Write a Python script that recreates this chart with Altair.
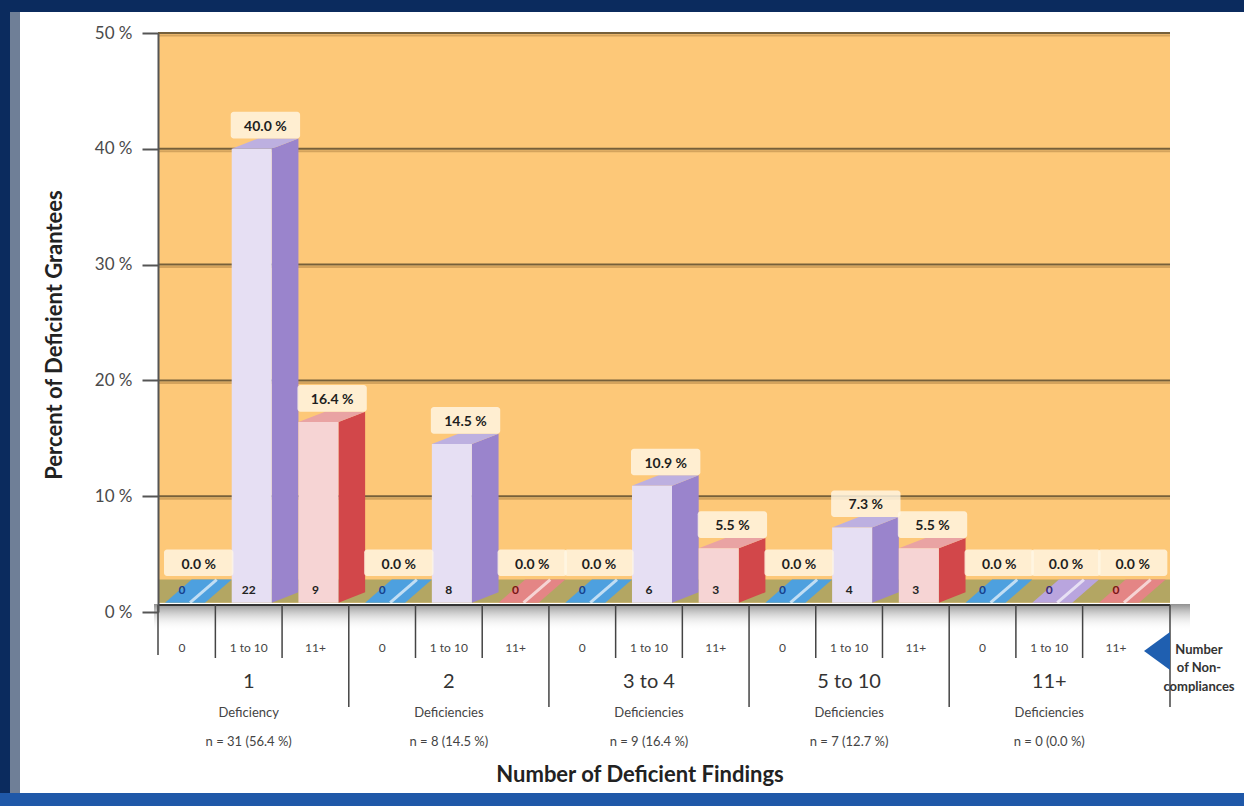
import altair as alt
import pandas as pd

# ---- data -------------------------------------------------------------
GROUPS = ["1", "2", "3 to 4", "5 to 10", "11+"]
GROUP_WORDS = ["Deficiency", "Deficiencies", "Deficiencies", "Deficiencies", "Deficiencies"]
GROUP_N = ["n = 31 (56.4 %)", "n = 8 (14.5 %)", "n = 9 (16.4 %)", "n = 7 (12.7 %)", "n = 0 (0.0 %)"]
SERIES = ["0", "1 to 10", "11+"]
PCT_NONE = [0.0, 0.0, 0.0, 0.0, 0.0]
PCT_1_10 = [40.0, 14.5, 10.9, 7.3, 0.0]
PCT_11P = [16.4, 0.0, 5.5, 5.5, 0.0]
CNT_NONE = [0, 0, 0, 0, 0]
CNT_1_10 = [22, 8, 6, 4, 0]
CNT_11P = [9, 0, 3, 3, 0]
Y_TICKS = [0, 10, 20, 30, 40, 50]

# ---- styling ----------------------------------------------------------
FONT = "Lato"
W, H = 1012, 579
FRONT = {"0": "#8fc6ee", "1 to 10": "#e6dff3", "11+": "#f6d4d4"}
SIDE = {"0": "#3f8fd0", "1 to 10": "#9a84cc", "11+": "#d2474a"}
TOP = {"0": "#6fb2e6", "1 to 10": "#bdb0e0", "11+": "#e9a3a3"}
FLAT = {"0": "#4da0df", "1 to 10": "#b9a5de", "11+": "#e48585"}
COUNT_INK = {"0": "#17408c", "1 to 10": "#3a2a7a", "11+": "#7a1515"}
BG = "#fdc878"
FLOOR = "#b3a663"
GRID = "#76603a"

# 3-D geometry (slot units along x, percent units along y)
FX0, FX1, DX = -0.255, 0.345, 0.40
BASE, DY, FLAT_DY = 0.8, 0.9, 2.0

XS = alt.Scale(domain=[-0.36, 14.81], nice=False, zero=False)
YS = alt.Scale(domain=[0, 50], nice=False, zero=False)
Y_AXIS = alt.Axis(values=Y_TICKS, labelExpr="datum.value + ' %'", grid=False, title=None,
                  domainColor="#555555", domainWidth=2, tickColor="#555555", tickWidth=2,
                  tickSize=16, labelFontSize=17, labelColor="#4a4a4a", labelPadding=10,
                  labelFont=FONT, zindex=1)


def X(f):
    return alt.X(f"{f}:Q", scale=XS, axis=None)


def Y(f):
    return alt.Y(f"{f}:Q", scale=YS, axis=Y_AXIS, stack=False)


pct = [PCT_NONE, PCT_1_10, PCT_11P]
cnt = [CNT_NONE, CNT_1_10, CNT_11P]

bars, polys, labels, counts, slots, stripes = [], [], [], [], [], []
for g in range(len(GROUPS)):
    for s, name in enumerate(SERIES):
        k = 3 * g + s
        v = pct[s][g]
        n = cnt[s][g]
        slots.append({"slot": k, "sub": name})
        ly = max(v, 2.2) + 1.9
        labels.append({"lx": k + 0.25, "bx": k - 0.27, "bx2": k + 0.77, "ly": ly,
                       "by": ly - 1.0, "by2": ly + 1.3, "txt": f"{v:.1f} %"})
        counts.append({"cx": k, "cy": 1.9, "txt": str(n),
                       "ink": COUNT_INK[name] if v == 0 else "#222222"})
        if v > 0:
            bars.append({"x": k + FX0, "x2": k + FX1, "y": BASE, "y2": v, "fill": FRONT[name]})
            fid = f"side{k}"
            polys += [
                {"id": fid, "x": k + FX1, "top": v, "bot": BASE, "fill": SIDE[name], "z": 1},
                {"id": fid, "x": k + FX1 + DX, "top": v + DY, "bot": BASE + DY, "fill": SIDE[name], "z": 1},
            ]
            tid = f"top{k}"
            polys += [
                {"id": tid, "x": k + FX0, "top": v, "bot": v, "fill": TOP[name], "z": 2},
                {"id": tid, "x": k + FX0 + DX, "top": v + DY, "bot": v, "fill": TOP[name], "z": 2},
                {"id": tid, "x": k + FX1, "top": v + DY, "bot": v, "fill": TOP[name], "z": 2},
                {"id": tid, "x": k + FX1 + DX, "top": v + DY, "bot": v + DY, "fill": TOP[name], "z": 2},
            ]
        else:
            zid = f"flat{k}"
            polys += [
                {"id": zid, "x": k + FX0, "top": BASE, "bot": BASE, "fill": FLAT[name], "z": 0},
                {"id": zid, "x": k + FX0 + DX, "top": BASE + FLAT_DY, "bot": BASE, "fill": FLAT[name], "z": 0},
                {"id": zid, "x": k + FX1, "top": BASE + FLAT_DY, "bot": BASE, "fill": FLAT[name], "z": 0},
                {"id": zid, "x": k + FX1 + DX, "top": BASE + FLAT_DY, "bot": BASE + FLAT_DY, "fill": FLAT[name], "z": 0},
            ]
            stripes.append({"x": k + 0.12, "x2": k + 0.12 + DX, "y": BASE, "y2": BASE + FLAT_DY})

bars_df = pd.DataFrame(bars)
polys_df = pd.DataFrame(polys)
labels_df = pd.DataFrame(labels)
counts_df = pd.DataFrame(counts)
slots_df = pd.DataFrame(slots)
stripes_df = pd.DataFrame(stripes)
flat_df = polys_df[polys_df.z == 0]
side_df = polys_df[polys_df.z == 1]
top_df = polys_df[polys_df.z == 2]

groups_df = pd.DataFrame({"gx": [3 * g + 1 for g in range(len(GROUPS))], "grp": GROUPS,
                          "word": GROUP_WORDS, "n": GROUP_N})
grid_df = pd.DataFrame({"g": Y_TICKS[1:]})
short_df = pd.DataFrame({"b": [3 * g + o for g in range(5) for o in (0.5, 1.5)]})
long_df = pd.DataFrame({"b": [3 * g + 2.5 for g in range(4)]})
one = pd.DataFrame({"k": [0]})

# ---- layers -----------------------------------------------------------
def panel(color, x, x2, y, y2):
    return alt.Chart(one).mark_rect(color=color).encode(
        x=alt.value(x), x2=alt.value(x2), y=alt.value(y), y2=alt.value(y2))


def note(text, x, y, size, bold=False, color="#333333", angle=0):
    props = dict(font=FONT, fontSize=size, color=color)
    if bold:
        props["fontWeight"] = "bold"
    if angle:
        props["angle"] = angle
    return alt.Chart(pd.DataFrame({"t": [text]})).mark_text(**props).encode(
        x=alt.value(x), y=alt.value(y), text="t:N")


frame = [
    panel("#0b2b5e", -158, 1086, -33, -21),
    panel("#0b2b5e", -158, -148, -33, 773),
    panel("#6f7f97", -148, -138, -21, 760),
    panel("#1f58a8", -158, 1086, 760, 773),
]

background = alt.Chart(pd.DataFrame({"lo": [BASE], "hi": [50]})).mark_rect(color=BG).encode(
    x=alt.value(0), x2=alt.value(W), y=Y("lo"), y2="hi:Q")

gridlines = alt.Chart(grid_df).mark_rule(color=GRID, strokeWidth=2).encode(
    y=Y("g"), x=alt.value(0), x2=alt.value(W))
gridshade = alt.Chart(grid_df).mark_rule(color="#c99a55", strokeWidth=2, yOffset=2.5, opacity=0.8).encode(
    y=Y("g"), x=alt.value(0), x2=alt.value(W))

floor = alt.Chart(pd.DataFrame({"lo": [BASE], "hi": [BASE + FLAT_DY]})).mark_rect(color=FLOOR).encode(
    x=alt.value(0), x2=alt.value(W), y=Y("lo"), y2="hi:Q")

shadow = alt.Chart(one).mark_rect(
    color=alt.LinearGradient(gradient="linear", x1=0, x2=0, y1=0, y2=1,
                             stops=[alt.GradientStop(color="rgba(70,70,70,0.6)", offset=0),
                                    alt.GradientStop(color="rgba(255,255,255,0)", offset=1)])
).encode(x=alt.value(-4), x2=alt.value(W + 20), y=alt.value(571), y2=alt.value(598))

flats = alt.Chart(flat_df).mark_area(interpolate="linear").encode(
    x=X("x"), y=Y("top"), y2="bot:Q",
    color=alt.Color("fill:N", scale=None), detail="id:N")

stripe_marks = alt.Chart(stripes_df).mark_rule(color="white", strokeWidth=3, opacity=0.65).encode(
    x=X("x"), x2="x2:Q", y=Y("y"), y2="y2:Q")

sides = alt.Chart(side_df).mark_area(interpolate="linear").encode(
    x=X("x"), y=Y("top"), y2="bot:Q",
    color=alt.Color("fill:N", scale=None), detail="id:N")

tops = alt.Chart(top_df).mark_area(interpolate="linear").encode(
    x=X("x"), y=Y("top"), y2="bot:Q",
    color=alt.Color("fill:N", scale=None), detail="id:N")

fronts = alt.Chart(bars_df).mark_rect().encode(
    x=X("x"), x2="x2:Q", y=Y("y"), y2="y2:Q",
    color=alt.Color("fill:N", scale=None))

label_boxes = alt.Chart(labels_df).mark_rect(color="#fff7e4", opacity=0.82, cornerRadius=3).encode(
    x=X("bx"), x2="bx2:Q", y=Y("by"), y2="by2:Q")

label_text = alt.Chart(labels_df).mark_text(font=FONT, fontSize=14, fontWeight="bold",
                                           color="#1e1e1e").encode(
    x=X("lx"), y=Y("ly"), text="txt:N")

count_text = alt.Chart(counts_df).mark_text(font=FONT, fontSize=12, fontWeight="bold").encode(
    x=X("cx"), y=Y("cy"), text="txt:N", color=alt.Color("ink:N", scale=None))

axis_line = alt.Chart(one).mark_rule(color="#333333", strokeWidth=2).encode(
    x=alt.value(0), x2=alt.value(W), y=alt.value(572))
short_div = alt.Chart(short_df).mark_rule(color="#444444", strokeWidth=1.5).encode(
    x=X("b"), y=alt.value(572), y2=alt.value(625))
long_div = alt.Chart(long_df).mark_rule(color="#444444", strokeWidth=1.5).encode(
    x=X("b"), y=alt.value(572), y2=alt.value(674))
edge_left = alt.Chart(one).mark_rule(color="#444444", strokeWidth=1.5).encode(
    x=alt.value(0), y=alt.value(572), y2=alt.value(622))
edge_right = alt.Chart(one).mark_rule(color="#444444", strokeWidth=1.5).encode(
    x=alt.value(W), y=alt.value(572), y2=alt.value(674))

sub_text = alt.Chart(slots_df).mark_text(font=FONT, fontSize=12, color="#444444").encode(
    x=X("slot"), y=alt.value(615), text="sub:N")
grp_text = alt.Chart(groups_df).mark_text(font=FONT, fontSize=20, color="#333333").encode(
    x=X("gx"), y=alt.value(649), text="grp:N")
word_text = alt.Chart(groups_df).mark_text(font=FONT, fontSize=13, color="#444444").encode(
    x=X("gx"), y=alt.value(680), text="word:N")
n_text = alt.Chart(groups_df).mark_text(font=FONT, fontSize=13, color="#444444").encode(
    x=X("gx"), y=alt.value(709), text="n:N")

x_title = note("Number of Deficient Findings", 482, 742, 22, bold=True, color="#222222")
y_title = note("Percent of Deficient Grantees", -103, 302, 22, bold=True, color="#222222", angle=270)

# white margin strip along the right edge, inside the frame
right_margin = panel("white", 1062, 1086, -21, 760)

pointer = alt.Chart(one).mark_point(shape="M1,-1.46L1,1.46L-1,0Z", size=676, filled=True,
                                    color="#1f5fb0", opacity=1).encode(
    x=alt.value(999), y=alt.value(618))
pointer_lines = [
    note("Number", 1041, 617, 13, bold=True),
    note("of Non-", 1041, 635, 13, bold=True),
    note("compliances", 1041, 654, 13, bold=True),
]

chart = alt.layer(
    *frame, background, gridshade, gridlines, floor, shadow, flats, stripe_marks, sides, tops, fronts,
    label_boxes, label_text, count_text, axis_line, short_div, long_div, edge_left, edge_right,
    sub_text, grp_text, word_text, n_text, x_title, y_title, right_margin, pointer, *pointer_lines,
).properties(
    width=W, height=H,
    autosize=alt.AutoSizeParams(type="none"),
    padding={"left": 158, "top": 33, "right": 74, "bottom": 194},
    background="white",
).configure_view(stroke=None)

chart.save("out.html", embed_options={"renderer": "svg", "actions": False})
